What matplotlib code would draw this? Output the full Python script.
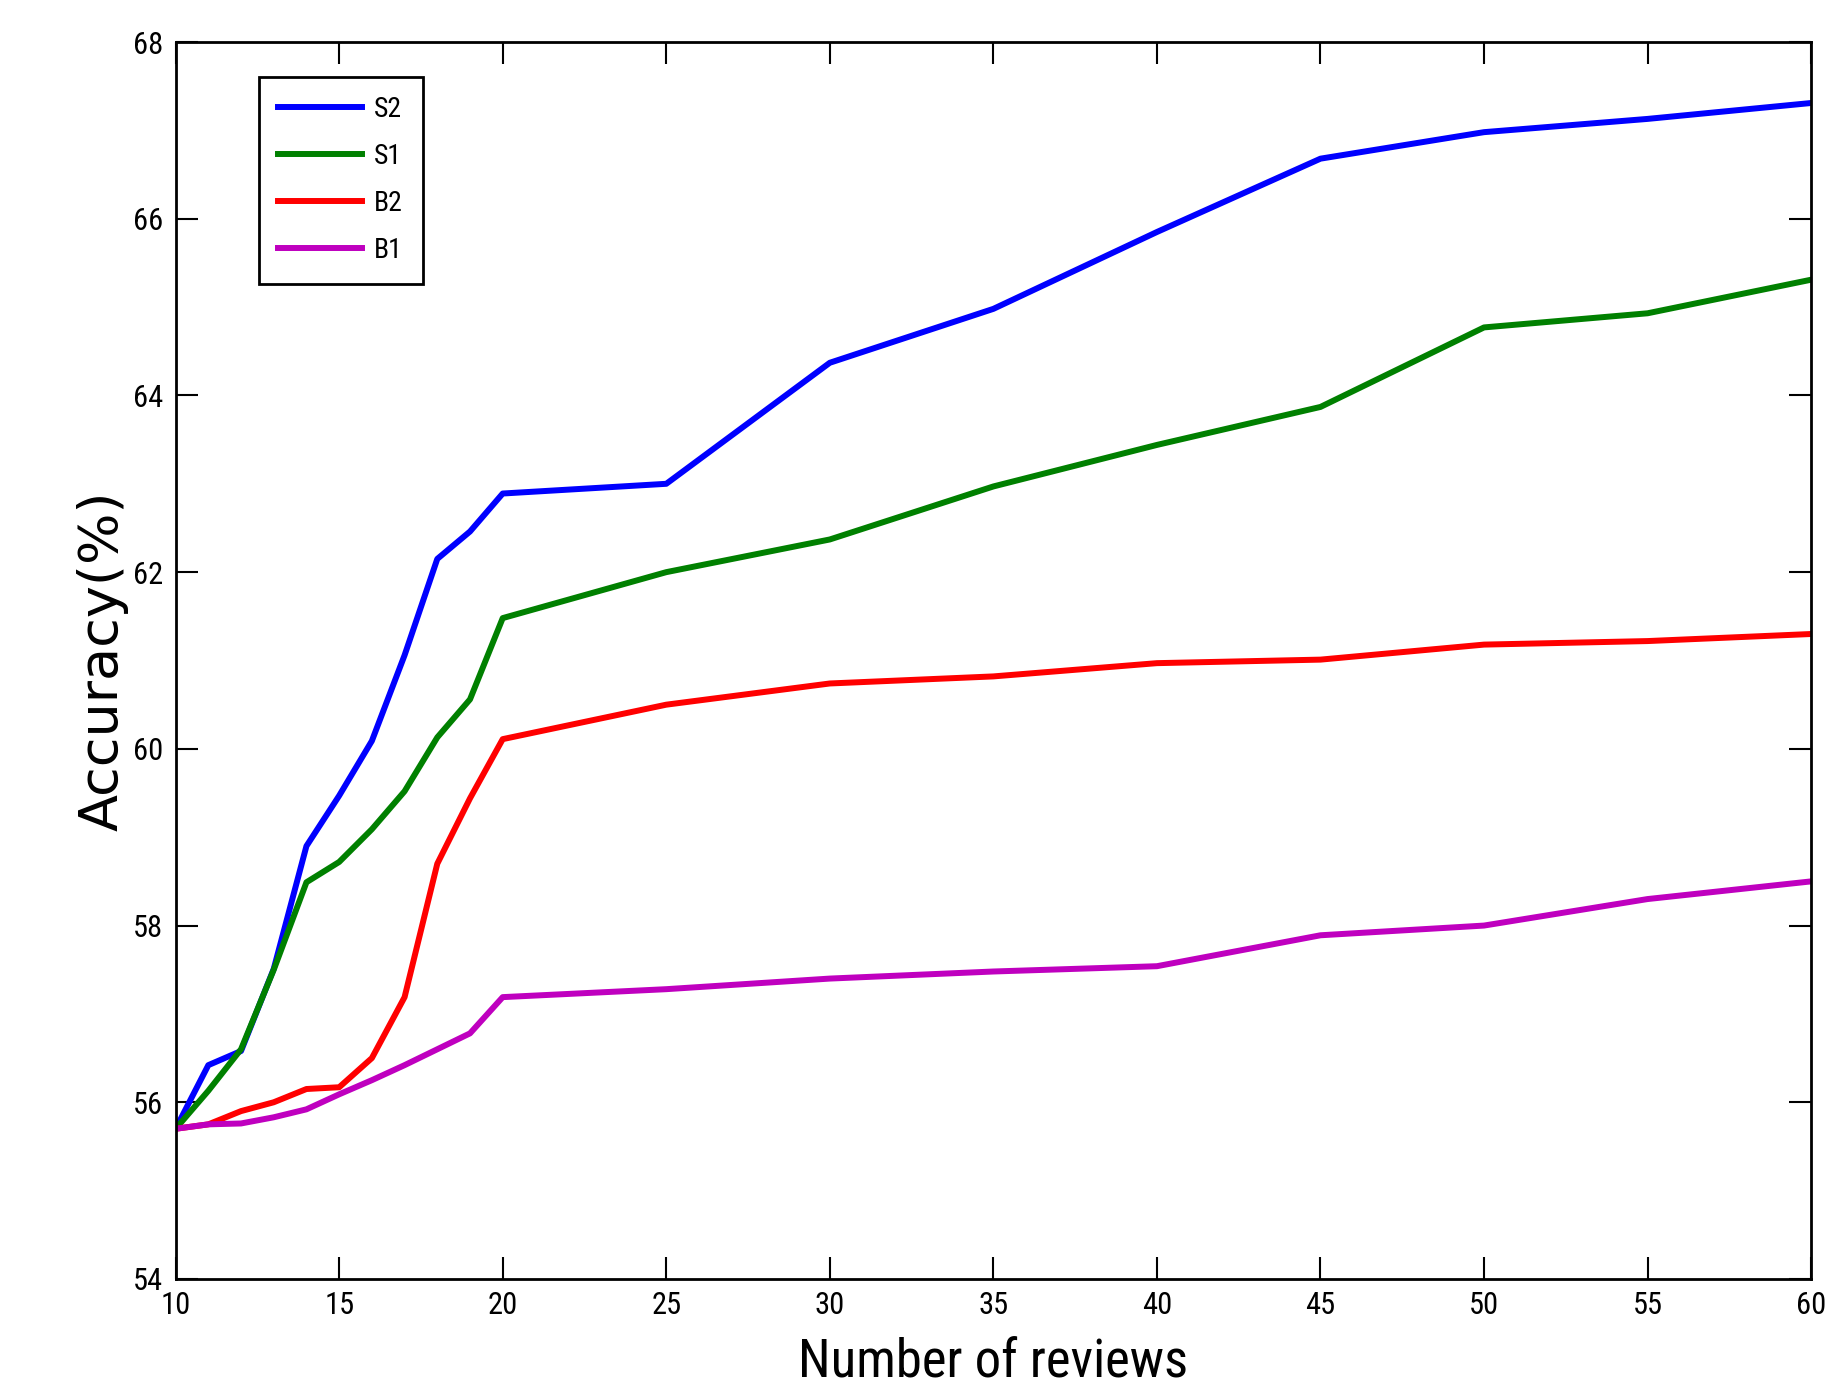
import matplotlib
matplotlib.use('Agg')
import matplotlib.pyplot as plt
from matplotlib import font_manager

x = [10, 11, 12, 13, 14, 15, 16, 17, 18, 19, 20, 25, 30, 35, 40, 45, 50, 55, 60]

s2 = [55.70, 56.42, 56.58, 57.51, 58.90, 59.47, 60.09, 61.06, 62.15, 62.46,
      62.89, 63.00, 64.37, 64.98, 65.85, 66.68, 66.98, 67.13, 67.31]
s1 = [55.70, 56.13, 56.60, 57.50, 58.49, 58.72, 59.09, 59.52, 60.13, 60.56,
      61.48, 62.00, 62.37, 62.97, 63.44, 63.87, 64.77, 64.93, 65.31]
b2 = [55.70, 55.75, 55.90, 56.00, 56.15, 56.17, 56.50, 57.19, 58.70, 59.44,
      60.11, 60.50, 60.74, 60.82, 60.97, 61.01, 61.18, 61.22, 61.30]
b1 = [55.70, 55.75, 55.76, 55.83, 55.92, 56.09, 56.25, 56.42, 56.60, 56.78,
      57.19, 57.28, 57.40, 57.48, 57.54, 57.89, 58.00, 58.30, 58.50]

series = [('S2', s2, '#0000ff'), ('S1', s1, '#008000'),
          ('B2', b2, '#ff0000'), ('B1', b1, '#bf00bf')]

xticks = [10, 15, 20, 25, 30, 35, 40, 45, 50, 55, 60]
yticks = [54, 56, 58, 60, 62, 64, 66, 68]

# narrow font if there is one, else plain Liberation Sans
names = {f.name for f in font_manager.fontManager.ttflist}
fam = 'Liberation Sans'
for cand in ['Liberation Sans Narrow', 'Arial Narrow', 'Roboto Condensed']:
    if cand in names:
        fam = cand
        break
plt.rcParams['font.family'] = [fam, 'DejaVu Sans']

fig = plt.figure(figsize=(18.35, 13.92), dpi=100)
ax = fig.add_axes([0.0957, 0.0812, 0.8913, 0.8886])

for name, vals, col in series:
    ax.plot(x, vals, color=col, lw=4.3, label=name)

ax.set_xlim(10, 60)
ax.set_ylim(54, 68)
ax.set_xticks(xticks)
ax.set_yticks(yticks)
ax.tick_params(direction='in', length=16, width=1.5, top=True, right=True,
               labelsize=22, pad=9)
for sp in ax.spines.values():
    sp.set_linewidth(2)

ax.set_xlabel('Number of reviews', fontsize=38, labelpad=12)
ax.set_ylabel('Accuracy(%)', fontsize=39, family=['DejaVu Sans'], labelpad=3)

leg = ax.legend(loc='upper left', bbox_to_anchor=(0.051, 0.972), fontsize=20,
                handlelength=3.0, handletextpad=0.45, labelspacing=0.72,
                fancybox=False, edgecolor='black', framealpha=1,
                borderpad=0.7, borderaxespad=0)
leg.get_frame().set_linewidth(2)

fig.savefig('out.png', dpi=100)
